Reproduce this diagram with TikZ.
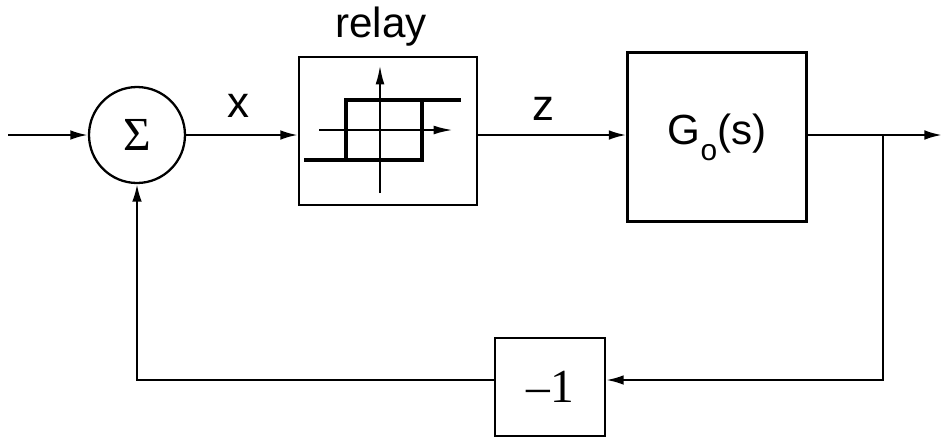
\documentclass[tikz,border=0pt]{standalone}
\usepackage{fontspec}
\setmainfont{Liberation Sans}
\newfontfamily\serifnum{Liberation Serif}
\usetikzlibrary{arrows.meta}
\begin{document}
\begin{tikzpicture}[
        x=0.02cm, y=-0.02cm,
        line width=1.3pt,
        >={Latex[length=10pt,width=5.5pt]},
        block/.style={draw, line width=1.3pt, inner sep=0pt},
        sumnode/.style={draw, circle, line width=1.3pt, minimum size=1.92cm, inner sep=0pt},
        siglabel/.style={font=\fontsize{25}{25}\selectfont, anchor=base, inner sep=0pt},
        curve/.style={line width=2pt, line join=miter}
    ]
        \useasboundingbox (0,0) rectangle (944,437);

        \node[sumnode] (sum) at (137,135) {\serifnum\fontsize{27}{27}\selectfont Σ};
        \node[block, minimum width=3.56cm, minimum height=2.96cm] (relay) at (388,131) {};
        \node[block, minimum width=3.58cm, minimum height=3.38cm] (plant) at (717,137) {\fontsize{24}{24}\selectfont G\raisebox{-9pt}{\fontsize{17}{17}\selectfont o}(s)};
        \node[block, minimum width=2.2cm, minimum height=1.96cm] (gain) at (550,387) {\serifnum\fontsize{27}{27}\selectfont –1};

        \node[font=\fontsize{24}{24}\selectfont, anchor=base, inner sep=0pt] (relaylbl) at (381,37) {relay};
        \node[siglabel] (xlbl) at (238,117) {x};
        \node[siglabel] (zlbl) at (543,120) {z};

        \coordinate (in) at (8,135);
        \coordinate (br) at (883,135);
        \coordinate (out) at (942,135);
        \coordinate (fb) at (883,380);

        % hysteresis sketch in the relay
        \draw[->, >={Latex[length=11pt,width=5pt]}] (380,193) -- (380,65);
        \draw[->, >={Latex[length=11pt,width=5pt]}] (319,130) -- (453,130);
        \draw[curve] (304,160) -- (422,160) -- (422,100) -- (461,100);
        \draw[curve] (346,160) -- (346,100) -- (422,100);

        \draw[->] (in) -- (sum);
        \draw[->] (sum) -- (sum -| relay.west);
        \draw[->] (relay.east |- sum) -- (plant.west |- sum);
        \draw[->] (plant.east |- sum) -- (out);
        \draw[->] (br) -- (fb) -- (gain.east |- fb);
        \draw[->] (gain.west |- fb) -| (sum.south);
    \end{tikzpicture}
\end{document}
